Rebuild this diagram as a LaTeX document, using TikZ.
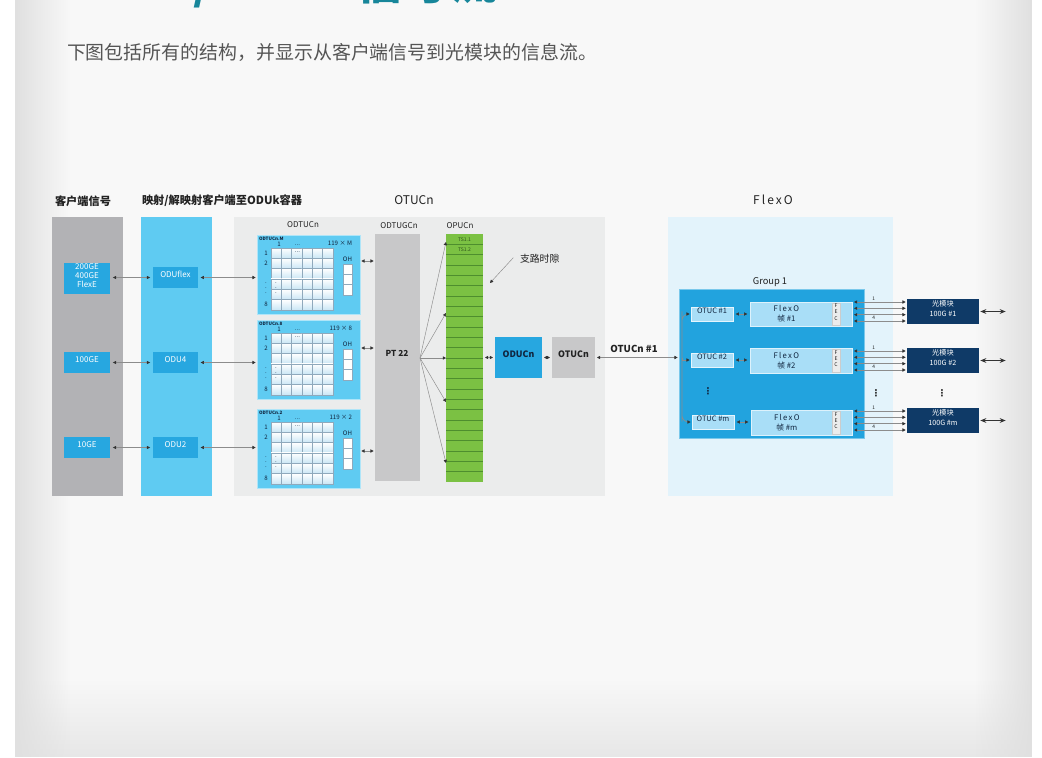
\documentclass[tikz,border=0pt]{standalone}
\usepackage{fontspec}
\setmainfont{Noto Sans CJK SC}
\newfontfamily\dejavu{DejaVu Sans}
\usetikzlibrary{arrows.meta,fit,fadings}
\definecolor{pagebg}{HTML}{F8F8F8}
\definecolor{edgebg}{HTML}{E0E0E0}
\definecolor{titlec}{HTML}{17869A}
\definecolor{subc}{HTML}{555555}
\definecolor{colgray}{HTML}{B2B2B5}
\definecolor{colblue}{HTML}{5FCBF2}
\definecolor{boxblue}{HTML}{27A7E0}
\definecolor{panelgray}{HTML}{EBECEC}
\definecolor{ptgray}{HTML}{C8C8C9}
\definecolor{green1}{HTML}{7BC143}
\definecolor{green2}{HTML}{4E8E2E}
\definecolor{flexbg}{HTML}{E3F3FB}
\definecolor{grpblue}{HTML}{22A3DE}
\definecolor{frameblue}{HTML}{A9DEF7}
\definecolor{navy}{HTML}{0F3A67}
\definecolor{linec}{HTML}{8C8C8C}
\definecolor{tipc}{HTML}{333333}
\definecolor{headc}{HTML}{222222}
\definecolor{cellblue}{HTML}{C9E6F5}
\definecolor{gridc}{HTML}{8FA9BC}
\definecolor{txtnavy}{HTML}{10253F}
\newcommand\fpx[2]{\fontsize{#1}{#2}\selectfont}
\tikzfading[name=fadeL, left color=transparent!0, right color=transparent!100]
\tikzfading[name=fadeR, left color=transparent!100, right color=transparent!0]
\tikzfading[name=fadeB, top color=transparent!100, bottom color=transparent!0]
\begin{document}
\begin{tikzpicture}[x=0.75pt,y=-0.75pt,
  every node/.style={inner sep=0pt, outer sep=0pt},
  tri/.tip={Triangle[length=2.4pt,width=2.4pt,color=tipc]},
  arr/.style={{tri}-{tri}, draw=linec, line width=0.45pt},
  arrone/.style={-{tri}, draw=linec, line width=0.45pt},
  hdr/.style={font=\fpx{8.4pt}{10pt}\bfseries, text=headc},
  hdrb/.style={font=\fpx{9pt}{11pt}, text=headc},
  cbox/.style={fill=boxblue, text=white, font=\fpx{6pt}{7pt}, align=center},
  tiny/.style={font=\fpx{3.4pt}{4pt}\bfseries, text=txtnavy},
  small/.style={font=\fpx{4.6pt}{5pt}, text=txtnavy},
  otucbox/.style={fill=frameblue, draw=white!70!frameblue, line width=0.4pt, text=txtnavy, font=\fpx{5.6pt}{6.6pt}},
  framebox/.style={fill=frameblue, draw=white!60!frameblue, line width=0.4pt},
  modbox/.style={fill=navy, text=white, font=\fpx{5.4pt}{7.6pt}, align=center},
  lane/.style={{tri}-{tri}, draw=linec, line width=0.45pt},
  dots/.style={font=\dejavu\bfseries\fpx{7pt}{8pt}, text=headc},
  bigarr/.style={{Stealth[length=4.5pt,width=3.6pt]}-{Stealth[length=4.5pt,width=3.6pt]}, draw=tipc, line width=0.7pt}
]
\useasboundingbox (0,0) rectangle (1042,757);
% page background
\fill[white] (0,0) rectangle (1042,757);
\fill[pagebg] (15,0) rectangle (1032,757);
\fill[edgebg, path fading=fadeB, fill opacity=0.7] (15,680) rectangle (1032,757);
\fill[edgebg, path fading=fadeL] (15,0) rectangle (70,757);
\fill[edgebg, path fading=fadeR] (975,0) rectangle (1032,757);

% title (cut off at top) and subtitle
\node[anchor=base west, font=\fpx{35pt}{36pt}\bfseries, text=titlec] (title) at (62,-1) {OTUC/FlexO 信号流};
\node[anchor=west, font=\fpx{14.2pt}{16pt}, text=subc] (sub) at (67,52) {下图包括所有的结构，并显示从客户端信号到光模块的信息流。};

% headers
\node[hdr, anchor=west] (h1) at (55,201) {客户端信号};
\node[hdr, anchor=west] (h2) at (142,201) {映射/解映射客户端至ODUk容器};
\node[hdrb] (h3) at (414,200) {OTUCn};
\node[hdrb] (h4) at (773,200) {F\,l\,e\,x\,O};

% columns / panels
\node[fit={(52,217)(123,496)}, fill=colgray] (colA) {};
\node[fit={(141,217)(212,496)}, fill=colblue] (colB) {};
\node[fit={(234,217)(605,496)}, fill=panelgray] (colC) {};
\node[fit={(668,217)(893,496)}, fill=flexbg] (colD) {};

% client signals
\node[cbox, fit={(64,263)(110,294)}] (c1) {200GE\\400GE\\FlexE};
\node[cbox, fit={(64,352)(110,373)}] (c2) {100GE};
\node[cbox, fit={(64,437)(110,458)}] (c3) {10GE};
% ODU containers
\node[cbox, fit={(153,267)(198,288)}] (d1) {ODUflex};
\node[cbox, fit={(153,352)(198,373)}] (d2) {ODU4};
\node[cbox, fit={(153,437)(198,458)}] (d3) {ODU2};
\draw[arr, shorten <=2.2pt, shorten >=2.2pt] (c1.east |- d1.west) -- (d1.west);
\draw[arr, shorten <=2.2pt, shorten >=2.2pt] (c2) -- (d2);
\draw[arr, shorten <=2.2pt, shorten >=2.2pt] (c3) -- (d3);

% ODTUCn
\node[font=\fpx{6pt}{7pt}, text=headc] (lodtu) at (303,225) {ODTUCn};
\foreach \y/\m/\nm in {235/M/b1,320/8/b2,409/2/b3}{
  \node[fit={(257,\y)({360},{\y+79})}, fill=colblue, draw=white!50!colblue, line width=0.5pt] (\nm) {};
  \foreach \i in {0,...,5}{
    \foreach \j in {0,...,5}{
      \shade[top color=white, bottom color=cellblue, draw=gridc, line width=0.3pt]
        ({271+\i*10.33},{\y+13+\j*10.33}) rectangle ++(10.33,10.33);
    }
  }
  \node[tiny, anchor=west] (\nm t) at (259,{\y+4}) {ODTUCn.\m};
  \node[small] (\nm c1) at (279,{\y+9}) {1};
  \node[small] (\nm cd) at (297.5,{\y+10}) {...};
  \node[small] (\nm rd) at (297.5,{\y+17}) {...};
  \node[small, anchor=east] (\nm n) at (352,{\y+8}) {119 × \m};
  \node[small] (\nm r1) at (266,{\y+18.2}) {1};
  \node[small] (\nm r2) at (266,{\y+28.5}) {2};
  \node[small] (\nm r4) at (266,{\y+49.2}) {$\vdots$};
  \node[small] (\nm c4) at (276,{\y+49.2}) {$\vdots$};
  \node[small] (\nm r6) at (266,{\y+69.8}) {8};
  \node[small] (\nm oh) at (347.5,{\y+24}) {OH};
  \node[fit={(343,{\y+29})(352,{\y+60})}, fill=white, draw=gridc, line width=0.35pt] (\nm ohb) {};
  \draw[gridc, line width=0.35pt] (343,{\y+39.3}) -- (352,{\y+39.3}) (343,{\y+49.7}) -- (352,{\y+49.7});
}
\draw[arr, shorten <=2pt, shorten >=1pt] (d1.east) -- (d1.east -| b1.west);
\draw[arr, shorten <=2pt, shorten >=1pt] (d2.east) -- (d2.east -| b2.west);
\draw[arr, shorten <=2pt, shorten >=1pt] (d3.east) -- (d3.east -| b3.west);

% ODTUGCn
\node[font=\fpx{6pt}{7pt}, text=headc] (lodtug) at (399,226) {ODTUGCn};
\node[fit={(375,234)(420,481)}, fill=ptgray] (ptg) {};
\node[font=\fpx{6.2pt}{7pt}\bfseries, text=headc] (pt22) at (397,353) {PT 22};
\coordinate (ra1) at (375,261);
\coordinate (ra2) at (375,348);
\coordinate (ra3) at (375,451);
\draw[arr, shorten <=1pt, shorten >=1pt] (ra1 -| b1.east) -- (ra1);
\draw[arr, shorten <=1pt, shorten >=1pt] (ra2 -| b2.east) -- (ra2);
\draw[arr, shorten <=1pt, shorten >=1pt] (ra3 -| b3.east) -- (ra3);

% OPUCn
\node[font=\fpx{6pt}{7pt}, text=headc] (lopu) at (460,226) {OPUCn};
\node[fit={(446,234)(483,482)}, fill=green1] (opu) {};
\foreach \k in {1,...,23}{
  \draw[green2, line width=0.6pt] (446,{234+\k*10.33}) -- (483,{234+\k*10.33});
}
\node[font=\fpx{3.8pt}{4pt}, text=green2!60!black] (ts1) at (464.5,239.5) {TS1.1};
\node[font=\fpx{3.8pt}{4pt}, text=green2!60!black] (ts2) at (464.5,249.5) {TS1.2};
\coordinate (fan) at (420,358);
\foreach \yy [count=\q] in {242,313,358,402,463}{
  \coordinate (fe\q) at (446,\yy);
  \draw[arrone, line width=0.35pt] (fan) -- (fe\q);
}
\node[font=\fpx{7.4pt}{8pt}, text=headc, anchor=west] (tslab) at (520,259) {支路时隙};
\coordinate (tsa) at (490,283);
\draw[arrone, line width=0.35pt] ([xshift=-5pt,yshift=1pt]tslab.west) -- (tsa);

% ODUCn / OTUCn
\node[fit={(495,337)(542,378)}, fill=boxblue, font=\fpx{6.6pt}{7pt}\bfseries, text=txtnavy] (oduc) {ODUCn};
\node[fit={(552,337)(595,378)}, fill=ptgray, font=\fpx{6.6pt}{7pt}\bfseries, text=headc] (otuc) {OTUCn};
\draw[arr, shorten <=1.5pt, shorten >=1.5pt] (oduc.west -| opu.east) -- (oduc.west);
\draw[arr, shorten <=1.5pt, shorten >=1.5pt] (oduc) -- (otuc);

% FlexO group
\node[font=\fpx{7pt}{8pt}, text=headc] (glab) at (770,282) {Group 1};
\node[fit={(679,289)(864,438)}, fill=grpblue, draw=white!40!grpblue, line width=0.4pt] (grp) {};
\draw[arr, shorten <=1.5pt, shorten >=1pt] (otuc.east) -- (otuc.east -| grp.west);
\node[font=\fpx{7.2pt}{8pt}\bfseries, text=headc] (otlab) at (634,349) {OTUCn \#1};

\node[otucbox, fit={(691,307)(733,321)}] (o1) {OTUC \#1};
\node[otucbox, fit={(691,353)(733,367)}] (o2) {OTUC \#2};
\node[otucbox, fit={(692,415)(734,429)}] (om) {OTUC \#m};
\node[framebox, fit={(750,302)(852,326)}] (f1) {};
\node[framebox, fit={(750,348)(852,373)}] (f2) {};
\node[framebox, fit={(751,410)(852,435)}] (fm) {};
\foreach \f/\lab in {f1/1,f2/2,fm/m}{
  \node[fit={([xshift=-15pt,yshift=-0.7pt]\f.north east)([xshift=-9pt,yshift=0.7pt]\f.south east)}, fill=white!85!gray, draw=white!60!gray, line width=0.3pt, font=\fpx{3.8pt}{4.6pt}, text=headc, align=center] (\f fec) {F\\E\\C};
  \node[font=\fpx{5.8pt}{7.6pt}, text=txtnavy, align=center] (\f txt) at ([xshift=-11pt]\f.center) {F\,l\,e\,x\,O\\帧 \#\lab};
}
\coordinate (spl) at (682,358);
\draw[arrone, shorten >=1pt] (spl) -- (spl |- o2.west) -- (o2.west);
\draw[arrone, rounded corners=5pt, shorten >=1pt] (spl) -- (682,330) -- (682,318) |- (o1.west);
\draw[arrone, rounded corners=5pt, shorten >=1pt] (spl) -- (682,400) -- (682,415) |- (om.west);
\draw[arr, shorten <=2pt, shorten >=2pt] (o1) -- (f1.west |- o1.east);
\draw[arr, shorten <=2pt, shorten >=2pt] (o2) -- (f2.west |- o2.east);
\draw[arr, shorten <=2pt, shorten >=2pt] (om) -- (fm.west |- om.east);
\node[dots, text=txtnavy] (gd1) at (708,391) {⋮};

% optical modules
\node[modbox, fit={(907,299)(979,324)}] (m1) {光模块\\100G \#1};
\node[modbox, fit={(907,348)(979,373)}] (m2) {光模块\\100G \#2};
\node[modbox, fit={(907,408)(979,433)}] (mm) {光模块\\100G \#m};
\foreach \f/\m in {f1/m1,f2/m2,fm/mm}{
  \foreach \d [count=\q] in {-9.5,-3.2,3.2,9.5}{
    \coordinate (\m l\q) at ([yshift={-\d*0.75pt}]\m.west);
    \draw[lane, shorten <=1.5pt, shorten >=1pt] (\m l\q -| \f.east) -- (\m l\q);
  }
  \node[font=\fpx{3.6pt}{4pt}, text=headc] (\m n1) at ([xshift=-25pt,yshift=2.2pt]\m l1) {1};
  \node[font=\fpx{3.6pt}{4pt}, text=headc] (\m n4) at ([xshift=-25pt,yshift=2.6pt]\m l4) {4};
  \coordinate (\m o) at ([xshift=20pt]\m.east);
  \draw[bigarr, shorten <=1pt] (\m.east) -- (\m o);
}
\node[dots] (gd2) at (876,393) {⋮};
\node[dots] (gd3) at (942,393) {⋮};
\end{tikzpicture}
\end{document}
